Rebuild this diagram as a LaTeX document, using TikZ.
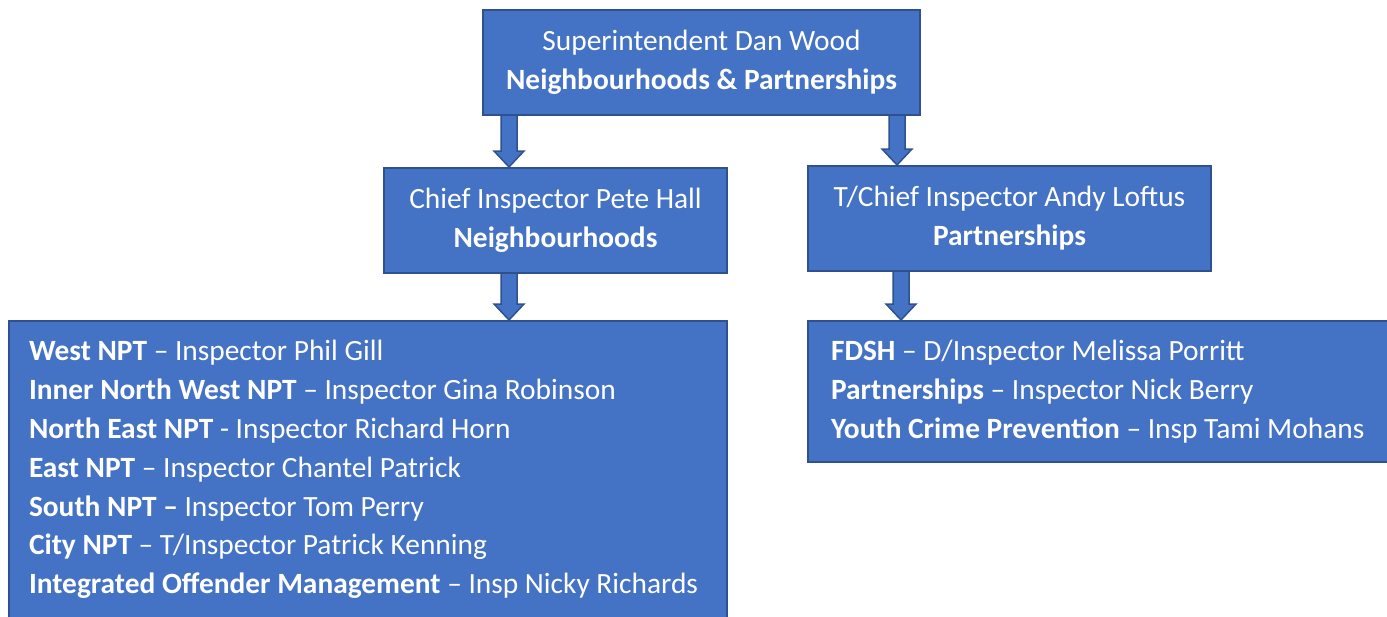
\documentclass[tikz,border=0pt]{standalone}
\usepackage{fontspec}
\setmainfont{Carlito}
\definecolor{boxfill}{HTML}{4472C4}
\definecolor{boxline}{HTML}{2F528F}
\newcommand{\blockarrow}[2]{%
    \filldraw[arrowbody] ([xshift=-8pt]#1) -- ([shift={(-8pt,16pt)}]#2) -- ([shift={(-15pt,16pt)}]#2) -- (#2)
        -- ([shift={(15pt,16pt)}]#2) -- ([shift={(8pt,16pt)}]#2) -- ([xshift=8pt]#1);
}
\begin{document}
\begin{tikzpicture}[x=1pt, y=-1pt,
    orgbox/.style={rectangle, draw=boxline, line width=2pt, fill=boxfill, text=white, align=center,
        font=\fontsize{29.4}{38.8}\selectfont, inner sep=0pt},
    listbox/.style={orgbox, align=flush left, inner xsep=20pt},
    arrowbody/.style={draw=boxline, line width=1.5pt, fill=boxfill}]
    \clip (0,0) rectangle (1387,616);
    \useasboundingbox (0,0) rectangle (1387,616);

    \node (super) [orgbox, minimum width=437pt, minimum height=105pt] at (701.5,62.5) {Superintendent Dan Wood\\\textbf{Neighbourhoods \& Partnerships}};
    \node (pete) [orgbox, minimum width=343pt, minimum height=105pt, below of=super, node distance=158pt, xshift=-146pt] {Chief Inspector Pete Hall\\\textbf{Neighbourhoods}};
    \node (andy) [orgbox, minimum width=403pt, minimum height=105pt, below of=super, node distance=156pt, xshift=308pt] {T/Chief Inspector Andy Loftus\\\textbf{Partnerships}};
    \node (npts) [listbox, text width=678pt, minimum height=297pt, below of=pete, node distance=249pt, xshift=-187.5pt] {%
        \textbf{West NPT} – Inspector Phil Gill\\
        \textbf{Inner North West NPT} – Inspector Gina Robinson\\
        \textbf{North East NPT} - Inspector Richard Horn\\
        \textbf{East NPT} – Inspector Chantel Patrick\\
        \textbf{South NPT –} Inspector Tom Perry\\
        \textbf{City NPT} – T/Inspector Patrick Kenning\\
        \textbf{Integrated Offender Management} – Insp Nicky Richards};
    \node (teams) [listbox, inner xsep=23pt, text width=560pt, minimum height=141pt, below of=andy, node distance=173pt, xshift=101.5pt] {%
        \textbf{FDSH} – D/Inspector Melissa Porritt\\
        \textbf{Partnerships} – Inspector Nick Berry\\
        \textbf{Youth Crime Prevention} – Insp Tami Mohans};

    % arrow columns
    \coordinate (colA) at (509,0);
    \coordinate (colB) at (897,0);
    \coordinate (colC) at (901,0);
    \coordinate (a1s) at (super.south -| colA);
    \coordinate (a1e) at (pete.north -| colA);
    \coordinate (a2s) at (super.south -| colB);
    \coordinate (a2e) at (andy.north -| colB);
    \coordinate (a3s) at (pete.south -| colA);
    \coordinate (a3e) at (npts.north -| colA);
    \coordinate (a4s) at (andy.south -| colC);
    \coordinate (a4e) at (teams.north -| colC);
    \blockarrow{a1s}{a1e}
    \blockarrow{a2s}{a2e}
    \blockarrow{a3s}{a3e}
    \blockarrow{a4s}{a4e}
\end{tikzpicture}
\end{document}
